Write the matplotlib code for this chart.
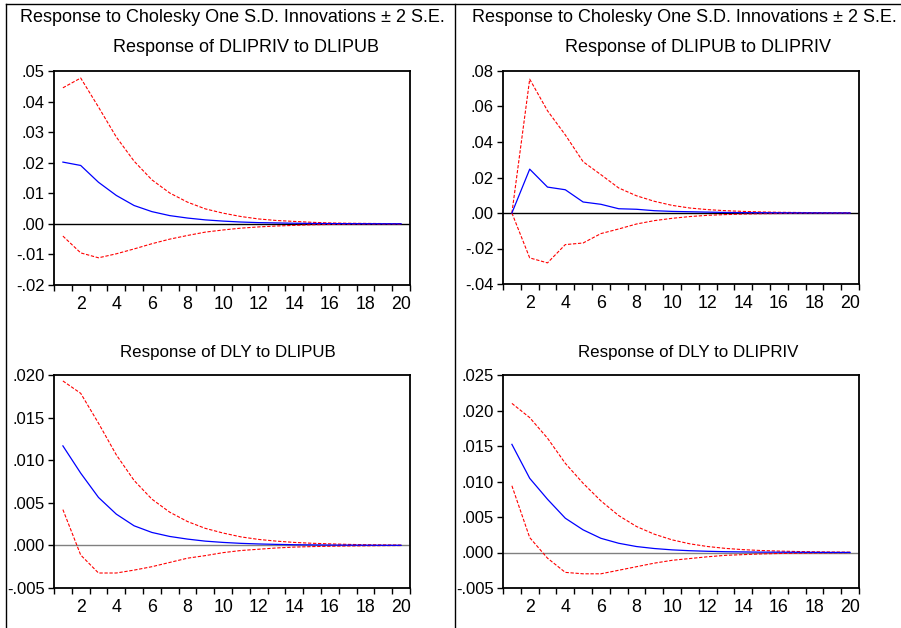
import numpy as np
import matplotlib.pyplot as plt
from matplotlib.lines import Line2D
from matplotlib.ticker import FixedLocator, FuncFormatter

plt.rcParams['font.family'] = ['Liberation Sans', 'DejaVu Sans']
plt.rcParams['axes.unicode_minus'] = False

periods = np.arange(1, 21)

# Response of DLIPRIV to DLIPUB
priv_pub = [0.0202, 0.0191, 0.0136, 0.0093, 0.0060, 0.0040, 0.0027, 0.0019, 0.0013, 0.0009,
            0.0006, 0.0004, 0.0003, 0.0002, 0.00013, 0.00009, 0.00006, 0.00004, 0.00003, 0.00002]
priv_pub_hi = [0.0445, 0.0477, 0.0382, 0.0284, 0.0205, 0.0144, 0.0101, 0.0071, 0.0049, 0.0035,
               0.0024, 0.0016, 0.0011, 0.0008, 0.0005, 0.0003, 0.0002, 0.00015, 0.0001, 0.00007]
priv_pub_lo = [-0.0040, -0.0095, -0.0111, -0.0098, -0.0082, -0.0065, -0.0050, -0.0038, -0.0027, -0.0020,
               -0.0014, -0.0010, -0.0007, -0.0005, -0.0003, -0.0002, -0.00015, -0.0001, -0.00007, -0.00005]

# Response of DLIPUB to DLIPRIV
pub_priv = [0.0, 0.0247, 0.0146, 0.0131, 0.0062, 0.0049, 0.0024, 0.0021, 0.0013, 0.0009,
            0.0007, 0.0005, 0.0003, 0.0002, 0.00015, 0.0001, 0.00007, 0.00005, 0.00003, 0.00002]
pub_priv_hi = [0.0, 0.0754, 0.0576, 0.0440, 0.0289, 0.0216, 0.0141, 0.0097, 0.0066, 0.0043,
               0.0028, 0.0019, 0.0013, 0.0009, 0.0006, 0.0004, 0.0003, 0.0002, 0.0001, 0.0001]
pub_priv_lo = [0.0, -0.0253, -0.0281, -0.0178, -0.0169, -0.0116, -0.0090, -0.0062, -0.0043, -0.0030,
               -0.0020, -0.0013, -0.0009, -0.0006, -0.0004, -0.0003, -0.0002, -0.0001, -0.0001, -0.00005]

# Response of DLY to DLIPUB
y_pub = [0.01168, 0.00848, 0.00563, 0.00367, 0.0023, 0.00152, 0.00105, 0.00074, 0.0005, 0.00035,
         0.00024, 0.00017, 0.00012, 0.00008, 0.00006, 0.00004, 0.00003, 0.00002, 0.00001, 0.00001]
y_pub_hi = [0.0193, 0.01785, 0.01434, 0.01063, 0.00762, 0.00543, 0.0039, 0.0028, 0.0020, 0.00145,
            0.0010, 0.0007, 0.0005, 0.00035, 0.00025, 0.00018, 0.00012, 0.00008, 0.00006, 0.00004]
y_pub_lo = [0.0042, -0.00113, -0.00324, -0.00324, -0.0029, -0.0025, -0.0020, -0.0015, -0.0012, -0.00085,
            -0.0006, -0.00045, -0.0003, -0.0002, -0.00014, -0.0001, -0.00007, -0.00005, -0.00003, -0.00002]

# Response of DLY to DLIPRIV
y_priv = [0.01523, 0.01045, 0.0075, 0.00483, 0.00319, 0.0020, 0.0013, 0.00084, 0.00056, 0.00037,
          0.00025, 0.00017, 0.00011, 0.00008, 0.00005, 0.00004, 0.00003, 0.00002, 0.00001, 0.00001]
y_priv_hi = [0.0210, 0.0190, 0.0161, 0.01256, 0.00975, 0.00727, 0.0052, 0.00366, 0.00258, 0.00178,
             0.00122, 0.00084, 0.00058, 0.0004, 0.00028, 0.0002, 0.00014, 0.0001, 0.00007, 0.00005]
y_priv_lo = [0.0094, 0.0021, -0.0008, -0.0028, -0.0030, -0.0030, -0.0025, -0.0020, -0.0015, -0.0011,
             -0.00085, -0.0006, -0.0004, -0.0003, -0.0002, -0.00014, -0.0001, -0.00007, -0.00005, -0.00003]

W, H = 901, 628


def px_rect(left, top, right, bottom):
    return [left / W, 1 - bottom / H, (right - left) / W, (bottom - top) / H]


def fmt(decimals):
    def f(v, pos):
        s = f"{v:.{decimals}f}"
        if s.startswith("-0"):
            s = "-" + s[2:]
        elif s.startswith("0"):
            s = s[1:]
        return s
    return FuncFormatter(f)


panels = [
    # rect, title, (mid, hi, lo), ylim, ystep, decimals, zero-line colour, title centre x/y, title size
    ((54, 71, 410, 285), "Response of DLIPRIV to DLIPUB", (priv_pub, priv_pub_hi, priv_pub_lo),
     (-0.02, 0.05), 0.01, 2, "black", 246, 47, 13),
    ((503, 71, 859, 284), "Response of DLIPUB to DLIPRIV", (pub_priv, pub_priv_hi, pub_priv_lo),
     (-0.04, 0.08), 0.02, 2, "black", 698, 47, 13),
    ((54, 375, 410, 588), "Response of DLY to DLIPUB", (y_pub, y_pub_hi, y_pub_lo),
     (-0.005, 0.020), 0.005, 3, "#808080", 228, 352, 12.2),
    ((503, 375, 859, 588), "Response of DLY to DLIPRIV", (y_priv, y_priv_hi, y_priv_lo),
     (-0.005, 0.025), 0.005, 3, "#808080", 688, 352, 12.2),
]

fig = plt.figure(figsize=(W / 100, H / 100), dpi=100)

for rect, title, (mid, hi, lo), ylim, ystep, dec, zc, tx, ty, tsize in panels:
    ax = fig.add_axes(px_rect(*rect))
    ax.axhline(0, color=zc, lw=1.0, zorder=1)
    ax.plot(periods, hi, color="red", lw=0.8, ls=(0, (3, 1.5)), zorder=2)
    ax.plot(periods, lo, color="red", lw=0.8, ls=(0, (3, 1.5)), zorder=2)
    ax.plot(periods, mid, color="blue", lw=0.9, zorder=3)
    ax.set_xlim(0.5, 20.5)
    ax.set_ylim(*ylim)
    ax.set_yticks(np.arange(ylim[0], ylim[1] + ystep / 2, ystep))
    ax.yaxis.set_major_formatter(fmt(dec))
    # ticks sit between periods, labels on even periods
    ax.xaxis.set_major_locator(FixedLocator(np.arange(0.5, 21, 1.0)))
    ax.xaxis.set_minor_locator(FixedLocator(np.arange(2, 21, 2)))
    ax.xaxis.set_major_formatter(FuncFormatter(lambda v, p: ""))
    ax.xaxis.set_minor_formatter(FuncFormatter(lambda v, p: f"{v:.0f}"))
    ax.tick_params(axis="x", which="major", direction="out", length=4.5, width=1)
    ax.tick_params(axis="x", which="minor", length=0, pad=8, labelsize=12.8)
    ax.tick_params(axis="y", direction="out", length=4, width=1, pad=2.5, labelsize=12)
    for s in ax.spines.values():
        s.set_linewidth(1.3)
    fig.text(tx / W, 1 - ty / H, title, ha="center", va="center", fontsize=tsize)

fig.text(232 / W, 1 - 17 / H, "Response to Cholesky One S.D. Innovations ± 2 S.E.",
         ha="center", va="center", fontsize=13)
fig.text(684 / W, 1 - 17 / H, "Response to Cholesky One S.D. Innovations ± 2 S.E.",
         ha="center", va="center", fontsize=13)

# frame lines around the two columns
for xy in [((6, W), (4, 4)), ((6, 6), (4, H)), ((455, 455), (4, H))]:
    fig.add_artist(Line2D([x / W for x in xy[0]], [1 - y / H for y in xy[1]],
                          color="black", lw=1.0))

fig.savefig("out.png", dpi=100)
